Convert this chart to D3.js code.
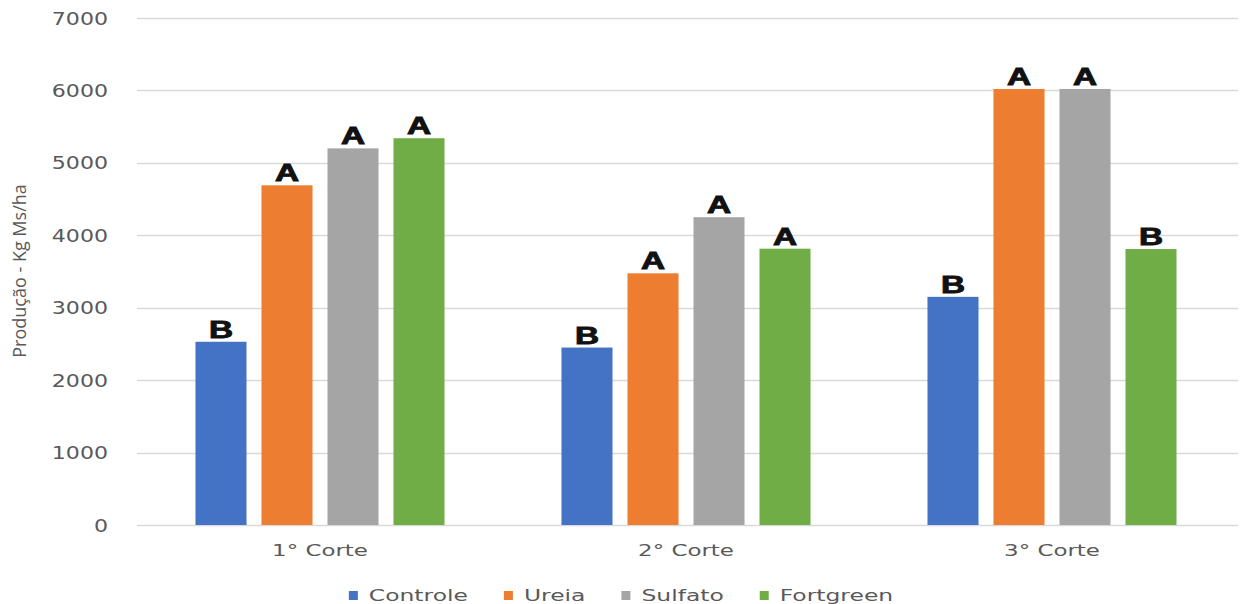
<!DOCTYPE html>
<html>
<head>
<meta charset="utf-8">
<script src="https://cdn.jsdelivr.net/npm/d3@7"></script>
<style>
  html, body { margin: 0; padding: 0; background: #fff; }
  svg { display: block; }
</style>
</head>
<body>
<svg id="chart" width="1242" height="604"></svg>
<script>
// Production (kg DM/ha) per cut and nitrogen source
const cuts = ["1° Corte", "2° Corte", "3° Corte"];
const treatments = ["Controle", "Ureia", "Sulfato", "Fortgreen"];
const colors = ["#4472C4", "#ED7D31", "#A5A5A5", "#70AD47"];
const controle  = [2530, 2450, 3150];
const ureia     = [4690, 3475, 6020];
const sulfato   = [5200, 4250, 6020];
const fortgreen = [5340, 3815, 3810];
const lettersControle  = ["B", "B", "B"];
const lettersUreia     = ["A", "A", "A"];
const lettersSulfato   = ["A", "A", "A"];
const lettersFortgreen = ["A", "A", "B"];
const yTicks = [0, 1000, 2000, 3000, 4000, 5000, 6000, 7000];
const yTitle = "Produção - Kg Ms/ha";

const seriesValues = [controle, ureia, sulfato, fortgreen];
const seriesLetters = [lettersControle, lettersUreia, lettersSulfato, lettersFortgreen];

const svg = d3.select("#chart");
const plot = { left: 137, right: 1235, top: 18, bottom: 525 };
const textGrey = "#595959";

const x0 = d3.scaleBand().domain(cuts).range([plot.left, plot.right]).padding(0);
const x1 = d3.scaleBand().domain(treatments).range([0, x0.bandwidth()])
  .paddingInner(0.227).paddingOuter(0.886);
const y = d3.scaleLinear().domain([0, 7000]).range([plot.bottom, plot.top]);

// gridlines
svg.append("g").selectAll("line").data(yTicks).join("line")
  .attr("x1", plot.left).attr("x2", plot.right + 3)
  .attr("y1", d => Math.round(y(d)) + 0.5).attr("y2", d => Math.round(y(d)) + 0.5)
  .attr("stroke", "#d9d9d9").attr("stroke-width", 1.3);

// stretched text helper
function wideText(sel, sx) {
  return sel.attr("transform", function () {
    const t = d3.select(this);
    return `translate(${t.attr("data-x")},${t.attr("data-y")}) scale(${sx},1)`;
  });
}

// y tick labels
svg.append("g").selectAll("text").data(yTicks).join("text")
  .attr("data-x", 108).attr("data-y", d => y(d) + 1)
  .attr("text-anchor", "end").attr("dominant-baseline", "central")
  .attr("font-family", "DejaVu Sans").attr("font-size", 17)
  .attr("fill", textGrey)
  .text(d => d)
  .call(wideText, 1.3);

// y axis title
svg.append("text")
  .attr("transform", `translate(26,271) rotate(-90)`)
  .attr("text-anchor", "middle")
  .attr("font-family", "Open Sans").attr("font-size", 18)
  .attr("fill", textGrey)
  .text(yTitle);

// bars
const rows = [];
cuts.forEach((c, i) => treatments.forEach((t, j) => rows.push({
  cut: c, treatment: t, value: seriesValues[j][i], letter: seriesLetters[j][i], color: colors[j]
})));

const groups = svg.append("g");
groups.selectAll("rect").data(rows).join("rect")
  .attr("x", d => x0(d.cut) + x1(d.treatment))
  .attr("width", x1.bandwidth())
  .attr("y", d => y(d.value))
  .attr("height", d => y(0) - y(d.value))
  .attr("fill", d => d.color);

// significance letters
groups.selectAll("text").data(rows).join("text")
  .attr("data-x", d => x0(d.cut) + x1(d.treatment) + x1.bandwidth() / 2)
  .attr("data-y", d => y(d.value) - 4)
  .attr("text-anchor", "middle")
  .attr("font-family", "Liberation Sans").attr("font-weight", "bold")
  .attr("font-size", 23).attr("fill", "#111")
  .attr("stroke", "#111").attr("stroke-width", 0.9)
  .text(d => d.letter)
  .call(wideText, 1.45);

// category labels
svg.append("g").selectAll("text").data(cuts).join("text")
  .attr("data-x", d => x0(d) + x0.bandwidth() / 2).attr("data-y", 556)
  .attr("text-anchor", "middle")
  .attr("font-family", "DejaVu Sans").attr("font-size", 16.5)
  .attr("fill", textGrey)
  .text(d => d)
  .call(wideText, 1.39);

// legend
const legendStretch = 1.42;
const legend = svg.append("g");
const items = legend.selectAll("g").data(treatments).join("g");
items.append("rect").attr("width", 9).attr("height", 9).attr("y", -4)
  .attr("fill", (d, i) => colors[i]);
items.append("text")
  .attr("x", 0).attr("y", 0)
  .attr("transform", `translate(20,0) scale(${legendStretch},1)`)
  .attr("dominant-baseline", "central")
  .attr("font-family", "DejaVu Sans").attr("font-size", 16.5)
  .attr("fill", textGrey)
  .text(d => d);
let cursor = 0;
const offsets = [];
items.each(function () {
  const w = d3.select(this).select("text").node().getComputedTextLength() * legendStretch;
  offsets.push(cursor);
  cursor += 20 + w + 36;
});
const total = cursor - 36;
const startX = 621 - total / 2;
items.attr("transform", (d, i) => `translate(${startX + offsets[i]},595)`);
</script>
</body>
</html>
